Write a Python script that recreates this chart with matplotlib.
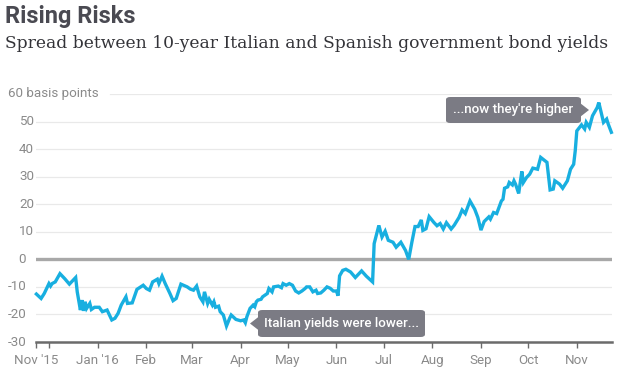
import matplotlib
matplotlib.use("Agg")
import matplotlib.pyplot as plt
from matplotlib.patches import FancyBboxPatch, Polygon
import matplotlib.transforms as mtransforms
import pandas as pd

# ---------------- data ----------------
start_date = "2015-11-23"
day_offsets = [
    0, 3, 5, 8, 9, 10, 12, 15, 18, 21,
    25, 26, 28, 29, 30, 31, 32, 34, 35, 37,
    40, 42, 45, 48, 50, 52, 54, 57, 58, 61,
    62, 64, 68, 70, 72, 74, 77, 78, 80, 82,
    85, 87, 89, 92, 96, 98, 100, 102, 104, 106,
    107, 109, 110, 112, 113, 114, 116, 117, 119, 121,
    123, 124, 127, 130, 132, 133, 134, 136, 138, 139,
    140, 141, 143, 144, 147, 148, 150, 151, 154, 156,
    157, 159, 161, 163, 165, 167, 169, 171, 172, 174,
    176, 178, 179, 181, 183, 185, 187, 189, 191, 192,
    193, 195, 197, 200, 203, 207, 210, 214, 215, 218,
    220, 222, 224, 227, 229, 232, 235, 237, 239, 241,
    243, 245, 246, 248, 250, 253, 255, 257, 259, 261,
    264, 266, 269, 271, 273, 276, 279, 281, 283, 285,
    288, 289, 291, 293, 296, 297, 298, 300, 301, 303,
    304, 305, 307, 309, 310, 312, 314, 316, 319, 321,
    325, 327, 329, 330, 333, 335, 338, 340, 342, 343,
    344, 347, 349, 350, 352, 354, 357, 358, 359, 361,
    363, 364, 366,
]
spread_bp = [
    -12.6, -14.2, -12.4, -8.8, -9.7, -8.8, -8.2, -5.2, -7.0, -9.0,
    -6.6, -11.8, -18.4, -14.8, -18.7, -15.4, -17.8, -16.0, -18.2, -17.4,
    -17.4, -19.0, -18.4, -22.0, -21.4, -19.6, -16.6, -13.6, -16.0, -15.8,
    -14.2, -10.9, -9.4, -10.6, -11.2, -8.2, -7.2, -8.8, -6.1, -8.8,
    -12.4, -15.0, -14.2, -9.0, -10.0, -10.8, -11.2, -9.7, -13.6, -15.4,
    -11.8, -16.0, -14.5, -16.6, -15.4, -17.4, -17.0, -19.0, -20.2, -24.2,
    -21.4, -20.2, -21.8, -22.3, -22.0, -23.0, -20.8, -17.8, -16.6, -17.2,
    -15.4, -14.8, -14.5, -13.6, -12.4, -10.6, -11.8, -10.0, -9.7, -10.3,
    -8.8, -9.4, -8.8, -9.4, -11.5, -12.2, -11.5, -10.6, -10.0, -10.0,
    -11.8, -11.2, -12.4, -12.2, -11.2, -10.0, -10.5, -11.5, -11.5, -13.2,
    -6.0, -4.0, -3.6, -4.6, -6.6, -4.2, -6.1, -8.2, 5.7, 12.3,
    8.1, 10.2, 6.9, 6.2, 4.4, 6.2, 3.2, 0.0, 6.2, 11.9,
    11.9, 14.3, 10.5, 11.1, 15.5, 13.4, 12.2, 13.0, 11.0, 13.3,
    11.0, 12.4, 15.2, 17.9, 16.6, 21.2, 18.2, 15.2, 10.6, 13.7,
    15.4, 14.6, 17.0, 16.6, 21.2, 21.8, 25.8, 26.3, 27.9, 27.0,
    28.5, 27.3, 23.9, 31.9, 27.9, 29.7, 30.9, 33.1, 32.7, 37.0,
    35.2, 25.2, 25.5, 28.5, 27.3, 25.8, 28.5, 32.7, 34.5, 39.4,
    46.6, 48.8, 47.3, 49.7, 47.9, 52.1, 55.1, 56.9, 54.5, 49.7,
    50.9, 49.1, 46.1,
]
assert len(day_offsets) == len(spread_bp)

y_ticks = [-30, -20, -10, 0, 10, 20, 30, 40, 50, 60]
y_tick_labels = ["-30", "-20", "-10", "0", "10", "20", "30", "40", "50", "60 basis points"]
x_tick_dates = ["2015-11-23", "2015-12-01", "2016-01-01", "2016-02-01", "2016-03-01",
                "2016-04-01", "2016-05-01", "2016-06-01", "2016-07-01", "2016-08-01",
                "2016-09-01", "2016-10-01", "2016-11-01"]
x_tick_labels = ["Nov '15", "", "Jan '16", "Feb", "Mar", "Apr", "May", "Jun",
                 "Jul", "Aug", "Sep", "Oct", "Nov"]
title = "Rising Risks"
subtitle = "Spread between 10-year Italian and Spanish government bond yields"
note_low = "Italian yields were lower..."
note_high = "...now they're higher"

# ---------------- styling ----------------
W, H = 622, 379
LINE_C = "#18afe0"
TICK_C = "#8a8a8a"
NOTE_C = "#7b7b84"

def P(x, y):
    return (x / W, 1 - y / H)

fig = plt.figure(figsize=(W / 100, H / 100), dpi=100)
fig.patch.set_facecolor("white")
ax_l, ax_r, ax_t, ax_b = 36, 612, 94, 342
ax = fig.add_axes([ax_l / W, 1 - ax_b / H, (ax_r - ax_l) / W, (ax_b - ax_t) / H])

start = pd.Timestamp(start_date)
dates = start + pd.to_timedelta(day_offsets, unit="D")

ax.set_ylim(-30, 60)
ax.set_xlim(start - pd.Timedelta(days=0.25), start + pd.Timedelta(days=366.4))

# gridlines
for v in y_ticks[1:]:
    if v == 0:
        continue
    xmin = (110 - ax_l) / (ax_r - ax_l) if v == 60 else 0
    ax.axhline(v, xmin=xmin, xmax=1, color="#e9e9e9", lw=0.9, zorder=0)
ax.axhline(0, color="#a8a8a8", lw=2.4, zorder=1)

ax.plot(dates, spread_bp, color=LINE_C, lw=2.4, zorder=3,
        solid_joinstyle="miter", clip_on=False)

for s in ["top", "right", "left"]:
    ax.spines[s].set_visible(False)
ax.spines["bottom"].set_color("#6b6b6b")
ax.spines["bottom"].set_linewidth(1.8)
ax.set_yticks([])
ax.set_xticks(pd.to_datetime(x_tick_dates))
ax.set_xticklabels(x_tick_labels, fontsize=9.6, color=TICK_C, family="Roboto")
ax.tick_params(axis="x", direction="out", length=4.5, width=1, color="#6b6b6b", pad=4)

# y labels
ytr = mtransforms.blended_transform_factory(fig.transFigure, ax.transData)
for v, lab in zip(y_ticks, y_tick_labels):
    if v == 60:
        ax.text(8 / W, v, lab, transform=ytr, ha="left", va="center",
                fontsize=9.6, color=TICK_C, family="Roboto")
    elif v > 0:
        ax.text(34 / W, v, lab, transform=ytr, ha="right", va="center",
                fontsize=9.6, color=TICK_C, family="Roboto")
    else:
        ax.text(26 / W, v, lab, transform=ytr, ha="right", va="center",
                fontsize=9.6, color=TICK_C, family="Roboto")

# titles
fig.text(*P(5, 23), title, ha="left", va="baseline", fontsize=17,
         fontweight="bold", color="#4a4a52", family="Roboto")
fig.text(*P(5, 48), subtitle, ha="left", va="baseline", fontsize=12.35,
         color="#333338", family="DejaVu Serif")

# annotation boxes
def note(x0, x1, y0, y1, text, side):
    box = FancyBboxPatch(P(x0, y1), (x1 - x0) / W, (y1 - y0) / H,
                         boxstyle="round,pad=0,rounding_size=0.007",
                         transform=fig.transFigure, facecolor=NOTE_C,
                         edgecolor="none", zorder=5)
    fig.patches.append(box)
    ym = (y0 + y1) / 2
    if side == "left":
        tri = [P(x0 + 1, ym - 7), P(x0 + 1, ym + 7), P(x0 - 8, ym)]
    else:
        tri = [P(x1 - 1, ym - 7), P(x1 - 1, ym + 7), P(x1 + 8, ym)]
    fig.patches.append(Polygon(tri, closed=True, transform=fig.transFigure,
                               facecolor=NOTE_C, edgecolor="none", zorder=5))
    fig.text(*P((x0 + x1) / 2, ym), text, ha="center", va="center",
             fontsize=9.6, color="white", family="Roboto", fontweight="medium",
             zorder=6)

note(258, 425, 310, 337, note_low, "left")
note(446, 581, 97, 123, note_high, "right")

fig.savefig("out.png", dpi=100)
